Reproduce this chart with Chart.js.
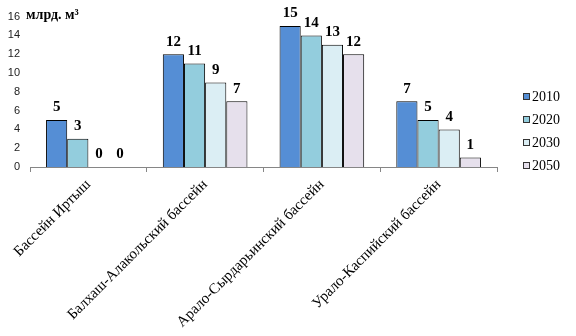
<!DOCTYPE html>
<html>
<head>
<meta charset="utf-8">
<script src="https://cdn.jsdelivr.net/npm/chart.js@4"></script>
<style>
  html, body { margin: 0; padding: 0; background: #fff; }
  #wrap { width: 576px; height: 336px; }
</style>
</head>
<body>
<div id="wrap"><canvas id="chart" width="576" height="336"></canvas></div>
<script>
const basins = ['Бассейн Иртыш', 'Балхаш-Алакольский бассейн', 'Арало-Сырдарьинский бассейн', 'Урало-Каспийский бассейн'];
const years = ['2010', '2020', '2030', '2050'];
const v2010 = [5, 12, 15, 7];
const v2020 = [3, 11, 14, 5];
const v2030 = [0, 9, 13, 4];
const v2050 = [0, 7, 12, 1];
const colors = ['#558ED5', '#93CDDD', '#DBEEF4', '#E6E0EC'];
const unitLabel = 'млрд. м³';

const series = [v2010, v2020, v2030, v2050];

// подписи значений над столбцами
const valueLabels = {
    id: 'valueLabels',
    afterDatasetsDraw(chart) {
        const c = chart.ctx;
        c.save();
        c.font = 'bold 15px "Liberation Serif", "Times New Roman", serif';
        c.fillStyle = '#000';
        c.textAlign = 'center';
        c.textBaseline = 'bottom';
        chart.data.datasets.forEach((ds, i) => {
            chart.getDatasetMeta(i).data.forEach((bar, j) => {
                c.fillText(String(ds.data[j]), bar.x, bar.y - 5);
            });
        });
        c.restore();
    }
};

// единицы измерения и легенда справа
const extras = {
    id: 'extras',
    afterDraw(chart) {
        const c = chart.ctx;
        const area = chart.chartArea;
        c.save();
        c.fillStyle = '#000';
        c.font = 'bold 14px "Liberation Serif", "Times New Roman", serif';
        c.textAlign = 'left';
        c.textBaseline = 'middle';
        c.fillText(unitLabel, area.left - 4, area.top - 1);

        c.font = '14px "Liberation Serif", "Times New Roman", serif';
        const lx = area.right + 26;
        let ly = 97;
        years.forEach((y, i) => {
            c.fillStyle = colors[i];
            c.fillRect(lx, ly - 4, 7, 7);
            c.strokeStyle = '#333';
            c.lineWidth = 1;
            c.strokeRect(lx + 0.5, ly - 3.5, 6, 6);
            c.fillStyle = '#000';
            c.fillText(y, lx + 9, ly);
            ly += 23;
        });
        c.restore();
    }
};

new Chart(document.getElementById('chart'), {
    type: 'bar',
    data: {
        labels: basins,
        datasets: years.map((y, i) => ({
            label: y,
            data: series[i],
            backgroundColor: colors[i],
            borderColor: '#000',
            borderWidth: ctx => (ctx.raw === 0 ? 0 : 1),
            borderSkipped: 'bottom',
            categoryPercentage: 0.725,
            barPercentage: 1
        }))
    },
    options: {
        responsive: false,
        animation: false,
        layout: { padding: { top: 15, right: 79, left: 0, bottom: 0 } },
        plugins: {
            legend: { display: false },
            tooltip: { enabled: false }
        },
        scales: {
            x: {
                grid: {
                    display: true,
                    offset: true,
                    drawOnChartArea: false,
                    tickLength: 5,
                    color: '#868686'
                },
                border: { color: '#868686' },
                ticks: {
                    minRotation: 45,
                    maxRotation: 45,
                    padding: 4,
                    color: '#000',
                    font: { family: '"Liberation Serif", "Times New Roman", serif', size: 15 }
                },
                afterFit(scale) { scale.height = 169; }
            },
            y: {
                min: 0,
                max: 16,
                ticks: {
                    stepSize: 2,
                    padding: 10,
                    color: '#222',
                    font: { family: '"Liberation Sans", Arial, sans-serif', size: 11 }
                },
                grid: { display: false, drawTicks: false },
                border: { display: false },
                afterFit(scale) { scale.width = 30; }
            }
        }
    },
    plugins: [valueLabels, extras]
});
</script>
</body>
</html>
